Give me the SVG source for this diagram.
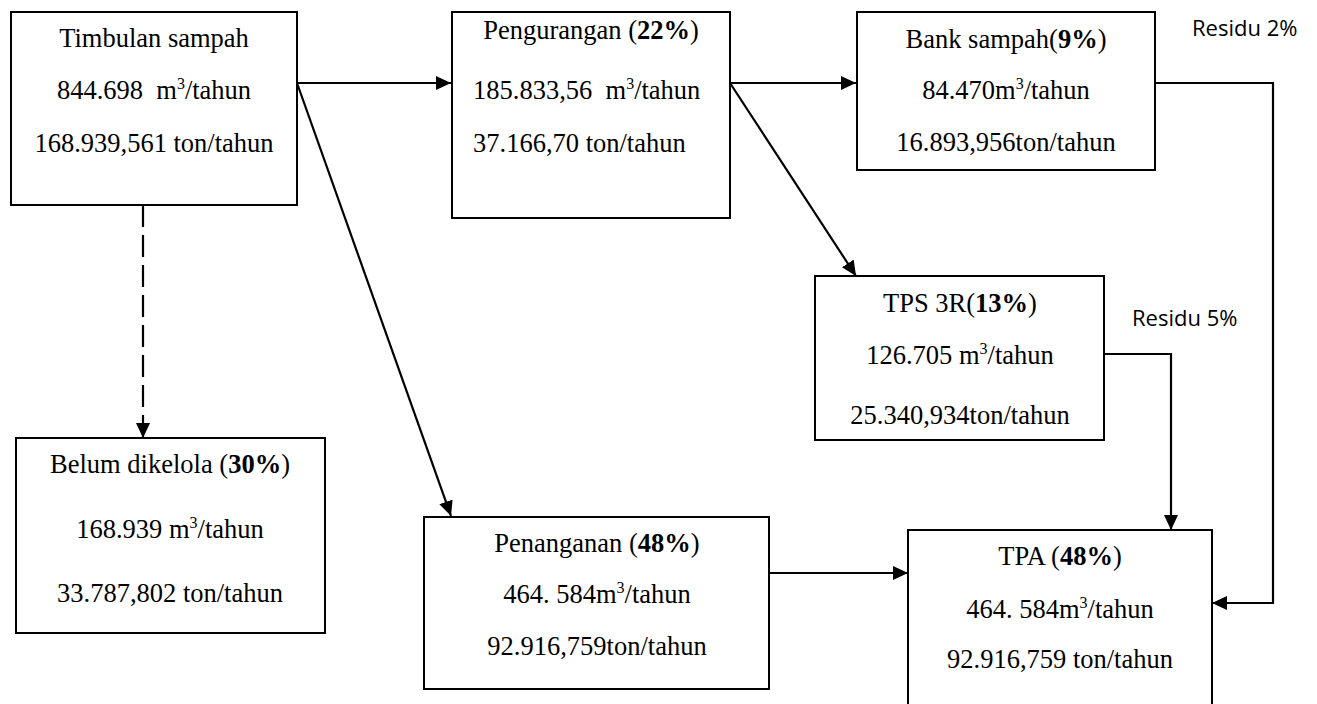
<svg xmlns="http://www.w3.org/2000/svg" width="1317" height="704" viewBox="0 0 1317 704">
<style>
.box{fill:#fff;stroke:#000;stroke-width:2}
.t{font-family:"Liberation Serif","Times New Roman",serif;font-size:26.5px;fill:#000}
.c{text-anchor:middle}
.b{font-weight:bold}
.sup{font-size:16px}
.res{font-family:"Open Sans","Liberation Sans",Arial,sans-serif;font-size:22px;fill:#000}
.ln{fill:none;stroke:#000;stroke-width:2.2}
.dash{stroke-dasharray:22 8}
</style>
<defs>
<marker id="arr" markerUnits="userSpaceOnUse" markerWidth="16" markerHeight="15" refX="15" refY="7" orient="auto">
<path d="M0,0 L15,7 L0,14 z" fill="#000"/>
</marker>
</defs>
<rect width="1317" height="704" fill="#fff"/>
<g id="connectors">
<path class="ln" d="M297,83 L451,83" marker-end="url(#arr)"/>
<path class="ln" d="M297,83 L451,516" marker-end="url(#arr)"/>
<path class="ln dash" d="M143,205 L143,438" marker-end="url(#arr)"/>
<path class="ln" d="M730,83 L856,83" marker-end="url(#arr)"/>
<path class="ln" d="M730,83 L856,276" marker-end="url(#arr)"/>
<path class="ln" d="M1155,83 L1273,83 L1273,603 L1212,603" marker-end="url(#arr)"/>
<path class="ln" d="M1104,354 L1171,354 L1171,530" marker-end="url(#arr)"/>
<path class="ln" d="M769,573 L908,573" marker-end="url(#arr)"/>
</g>
<g id="timbulan">
<rect class="box" x="11" y="12" width="286" height="193"/>
<text class="t c" x="154" y="47">Timbulan sampah</text>
<text class="t c" x="154" y="99">844.698&#160; m<tspan class="sup" dy="-10">3</tspan><tspan dy="10">/tahun</tspan></text>
<text class="t c" x="154" y="152">168.939,561 ton/tahun</text>
</g>
<g id="pengurangan">
<rect class="box" x="452" y="12" width="278" height="206"/>
<text class="t c" x="591" y="39">Pengurangan (<tspan class="b">22%</tspan>)</text>
<text class="t" x="473" y="99">185.833,56&#160; m<tspan class="sup" dy="-10">3</tspan><tspan dy="10">/tahun</tspan></text>
<text class="t" x="473" y="152">37.166,70 ton/tahun</text>
</g>
<g id="bank-sampah">
<rect class="box" x="857" y="12" width="298" height="158"/>
<text class="t c" x="1006" y="48">Bank sampah(<tspan class="b">9%</tspan>)</text>
<text class="t c" x="1006" y="99">84.470m<tspan class="sup" dy="-10">3</tspan><tspan dy="10">/tahun</tspan></text>
<text class="t c" x="1006" y="151">16.893,956ton/tahun</text>
</g>
<g id="residu-2">
<text class="res" x="1192" y="36">Residu 2%</text>
</g>
<g id="tps3r">
<rect class="box" x="815" y="276" width="289" height="164"/>
<text class="t c" x="960" y="312">TPS 3R(<tspan class="b">13%</tspan>)</text>
<text class="t c" x="960" y="364">126.705 m<tspan class="sup" dy="-10">3</tspan><tspan dy="10">/tahun</tspan></text>
<text class="t c" x="960" y="424">25.340,934ton/tahun</text>
</g>
<g id="residu-5">
<text class="res" x="1132" y="326">Residu 5%</text>
</g>
<g id="belum-dikelola">
<rect class="box" x="16" y="438" width="309" height="195"/>
<text class="t c" x="170" y="473">Belum dikelola (<tspan class="b">30%</tspan>)</text>
<text class="t c" x="170" y="538">168.939 m<tspan class="sup" dy="-10">3</tspan><tspan dy="10">/tahun</tspan></text>
<text class="t c" x="170" y="602">33.787,802 ton/tahun</text>
</g>
<g id="penanganan">
<rect class="box" x="424" y="517" width="345" height="172"/>
<text class="t c" x="597" y="552">Penanganan (<tspan class="b">48%</tspan>)</text>
<text class="t c" x="597" y="603">464. 584m<tspan class="sup" dy="-10">3</tspan><tspan dy="10">/tahun</tspan></text>
<text class="t c" x="597" y="655">92.916,759ton/tahun</text>
</g>
<g id="tpa">
<rect class="box" x="908" y="530" width="304" height="180"/>
<text class="t c" x="1060" y="565">TPA (<tspan class="b">48%</tspan>)</text>
<text class="t c" x="1060" y="618">464. 584m<tspan class="sup" dy="-10">3</tspan><tspan dy="10">/tahun</tspan></text>
<text class="t c" x="1060" y="668">92.916,759 ton/tahun</text>
</g>
</svg>
